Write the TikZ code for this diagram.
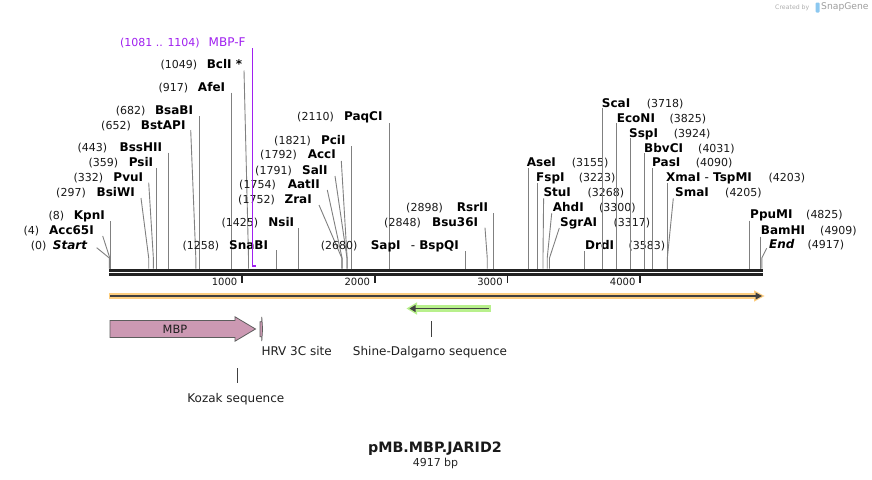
\documentclass[tikz,border=0pt]{standalone}
\usepackage{fontspec}
\setmainfont{DejaVu Sans}[BoldFont={DejaVu Sans Bold},ItalicFont={DejaVu Sans Oblique},BoldItalicFont={DejaVu Sans Bold Oblique}]
\usetikzlibrary{calc}
\definecolor{cutgray}{RGB}{128,128,128}
\definecolor{barcol}{RGB}{34,34,34}
\definecolor{primer}{RGB}{160,32,240}
\definecolor{orfill}{RGB}{253,206,128}
\definecolor{grfill}{RGB}{184,240,140}
\definecolor{darkln}{RGB}{64,64,64}
\definecolor{mbpfill}{RGB}{204,153,179}
\definecolor{logogray}{RGB}{175,175,175}
\definecolor{logoblue}{RGB}{140,200,240}
\newcommand\bpx[1]{109.3+0.1327*#1}
\tikzset{
 numlab/.style={inner sep=0pt, font=\fontsize{11}{13}\selectfont, text=black!90},
 namelab/.style={inner sep=0pt, font=\fontsize{12}{14}\selectfont\bfseries, text=black},
 featlab/.style={inner sep=0pt, font=\fontsize{12}{14}\selectfont, text=black!88},
 ticklab/.style={inner sep=0pt, font=\fontsize{10}{12}\selectfont, text=black!90},
 cut/.style={draw=cutgray, line width=0.9pt},
 barline/.style={draw=barcol, line width=3pt},
 tickline/.style={draw=barcol, line width=1.6pt},
 featick/.style={draw=darkln, line width=1.5pt},
}
% left labels, slanted line: id num name numR nameR cy bp top(x,y)
\newcommand\enzL[8]{%
 \node[numlab, anchor=base east] (#1n) at (#4,{#6+4.3}) {#2};
 \node[namelab, anchor=base east] (#1) at (#5,{#6+4.3}) {#3};
 \coordinate (#1t) at (#8);
 \coordinate (#1k) at ({\bpx{#7}},258);
 \coordinate (#1s) at ({\bpx{#7}},268.5);
 \draw[cut] (#1t) -- (#1k) -- (#1s);}
% left labels, vertical line: last arg = top y
\newcommand\enzLv[8]{%
 \node[numlab, anchor=base east] (#1n) at (#4,{#6+4.3}) {#2};
 \node[namelab, anchor=base east] (#1) at (#5,{#6+4.3}) {#3};
 \coordinate (#1t) at ({\bpx{#7}},#8);
 \coordinate (#1s) at ({\bpx{#7}},268.5);
 \draw[cut] (#1t) -- (#1s);}
% right labels: id name num nameL numL cy bp top(x,y)
\newcommand\enzR[8]{%
 \node[namelab, anchor=base west] (#1) at (#4,{#6+4.3}) {#2};
 \node[numlab, anchor=base west] (#1n) at (#5,{#6+4.3}) {#3};
 \coordinate (#1t) at (#8);
 \coordinate (#1k) at ({\bpx{#7}},258);
 \coordinate (#1s) at ({\bpx{#7}},268.5);
 \draw[cut] (#1t) -- (#1k) -- (#1s);}
\newcommand\enzRv[8]{%
 \node[namelab, anchor=base west] (#1) at (#4,{#6+4.3}) {#2};
 \node[numlab, anchor=base west] (#1n) at (#5,{#6+4.3}) {#3};
 \coordinate (#1t) at ({\bpx{#7}},#8);
 \coordinate (#1s) at ({\bpx{#7}},268.5);
 \draw[cut] (#1t) -- (#1s);}
\begin{document}
\begin{tikzpicture}[x=1pt,y=-1pt]
\useasboundingbox (0,0) rectangle (872,479);
\fill[white] (0,0) rectangle (872,479);

% ---------- enzymes, left side ----------
\enzL{start}{(0)}{\itshape Start}{46.7}{87.3}{245}{0}{96.7,247.7}
\enzL{acc}{(4)}{Acc65I}{39.3}{94}{230}{4}{102.7,236}
\enzLv{kpn}{(8)}{KpnI}{64.3}{105}{215}{8}{221}
\enzL{bsiwi}{(297)}{BsiWI}{86}{135}{192.3}{297}{141,198}
\enzL{pvu}{(332)}{PvuI}{103.3}{143.3}{176.7}{332}{148.7,182.7}
\enzLv{psi}{(359)}{PsiI}{118.3}{153.3}{162.3}{359}{168.3}
\enzLv{bsshii}{(443)}{BssHII}{107.3}{162.3}{146.7}{443}{152.7}
\enzL{bstapi}{(652)}{BstAPI}{131}{185.7}{125}{652}{190.7,130}
\enzLv{bsabi}{(682)}{BsaBI}{145.7}{193.3}{110}{682}{116}
\enzLv{afe}{(917)}{AfeI}{188.3}{225.3}{87.3}{917}{92.7}
\enzL{bcl}{(1049)}{BclI *}{197.3}{242.3}{64.3}{1049}{244,70.5}
\enzLv{snab}{(1258)}{SnaBI}{219.3}{268.3}{245}{1258}{250}
\enzLv{nsi}{(1425)}{NsiI}{258.3}{294.3}{221.7}{1425}{228.3}
\enzL{zra}{(1752)}{ZraI}{275}{312}{199.3}{1752}{319,205}
\enzL{aat}{(1754)}{AatII}{276}{320}{184.3}{1754}{327.3,190}
\enzL{sal}{(1791)}{SalI}{292}{327.7}{170}{1791}{335,176}
\enzL{acci}{(1792)}{AccI}{297}{336}{154.3}{1792}{341.3,161}
\enzLv{pci}{(1821)}{PciI}{311}{345.7}{139.7}{1821}{146}
\enzLv{paq}{(2110)}{PaqCI}{334}{382.7}{116.3}{2110}{123.3}
\enzLv{sap}{(2680)}{SapI\hspace{6pt} {\mdseries -} BspQI}{357.7}{459}{245}{2680}{251}
\enzL{bsu}{(2848)}{Bsu36I}{421}{478.3}{222}{2848}{485,227.7}
\enzLv{rsr}{(2898)}{RsrII}{443}{488.3}{207}{2898}{213.3}

% ---------- enzymes, right side ----------
\enzRv{ase}{AseI}{(3155)}{526.7}{571.7}{161.7}{3155}{168.3}
\enzRv{fsp}{FspI}{(3223)}{536}{578.7}{177.3}{3223}{183.3}
\enzR{stu}{StuI}{(3268)}{543.3}{587.3}{191.7}{3268}{543.6,198.3}
\enzR{ahd}{AhdI}{(3300)}{552.7}{599}{206.7}{3300}{551.7,213.3}
\enzR{sgr}{SgrAI}{(3317)}{560}{613.3}{221.7}{3317}{559.3,228}
\enzRv{drd}{DrdI}{(3583)}{585}{628.3}{245.5}{3583}{251}
\enzRv{sca}{ScaI}{(3718)}{601.7}{646.7}{102.7}{3718}{108.3}
\enzRv{econ}{EcoNI}{(3825)}{616.7}{669.3}{117.7}{3825}{123.3}
\enzRv{ssp}{SspI}{(3924)}{629}{673.7}{132.7}{3924}{138.3}
\enzRv{bbv}{BbvCI}{(4031)}{644}{698}{147.7}{4031}{153.3}
\enzRv{pas}{PasI}{(4090)}{652}{695.7}{161.7}{4090}{168.3}
\enzRv{xma}{XmaI {\mdseries -} TspMI}{(4203)}{666}{768.3}{177.3}{4203}{183.3}
\enzR{sma}{SmaI}{(4205)}{675}{725}{191.7}{4205}{673.3,198.3}
\enzRv{ppu}{PpuMI}{(4825)}{750}{806}{214.3}{4825}{220.7}
\enzRv{bam}{BamHI}{(4909)}{760.7}{820}{230}{4909}{236.7}
\enzR{end}{\itshape End}{(4917)}{769}{807.3}{244}{4917}{766.7,248.3}

% ---------- primer MBP-F ----------
\node[numlab, text=primer, anchor=base east] (mbpfn) at (200,46.6) {(1081 .. 1104)};
\node[featlab, text=primer, anchor=base east] (mbpf) at (245.7,46.6) {MBP-F};
\coordinate (mbpft) at ({\bpx{1081}},48.3);
\coordinate (mbpfk) at ({\bpx{1081}},266);
\coordinate (mbpfe) at ({\bpx{1104}},266);
\draw[primer, line width=1.3pt] (mbpft) -- (mbpfk) -- (mbpfe);

% ---------- sequence bar ----------
\draw[barline] (109,270) -- (762.7,270);
\draw[barline] (109,274) -- (762.7,274);
\foreach \k in {1,2,3,4} {
  \coordinate (tk\k) at ({\bpx{1000*\k}},275);
  \draw[tickline] (tk\k) -- ++(0,7.5);
  \node[ticklab, anchor=base east] (tl\k) at ($(tk\k)+(-4.5,10.8)$) {\k000};
}

% ---------- features ----------
% orange full-length arrow
\fill[orfill] (109,293.3) rectangle (757,298.7);
\fill[orfill] (754,290.3) -- (764.5,296) -- (754,301.7) -- cycle;
\draw[darkln, line width=1.8pt] (110,296) -- (757,296);
\fill[darkln] (755.5,292.4) -- (762,296) -- (755.5,299.6) -- cycle;
% green reverse arrow
\fill[grfill] (414,305.3) rectangle (490.5,311.7);
\fill[grfill] (417,302.3) -- (406.5,308.5) -- (417,314.7) -- cycle;
\draw[darkln, line width=1.8pt] (414,308.5) -- (488.5,308.5);
\fill[darkln] (415.5,304.9) -- (409.5,308.5) -- (415.5,312.1) -- cycle;
% MBP arrow
\draw[fill=mbpfill, draw=darkln!85, line width=0.8pt]
  (110,320.5) -- (235,320.5) -- (235,316.8) -- (255.5,329) -- (235,341.2) -- (235,337.5) -- (110,337.5) -- cycle;
\node[inner sep=0pt, font=\fontsize{11.4}{13}\selectfont, text=black!88] (mbp) at (175,329.5) {MBP};
% HRV 3C site
\draw[fill=mbpfill, draw=darkln!85, line width=0.7pt]
  (260,321.7) -- (261.8,321.7) -- (261.8,316.8) -- (262.6,329) -- (261.8,341.2) -- (261.8,336.7) -- (260,336.7) -- cycle;
\node[featlab, anchor=base west] (hrv) at (261.3,355) {HRV 3C site};
% Shine-Dalgarno
\coordinate (sdt) at (431.7,321);
\coordinate (sdb) at (431.7,336.7);
\draw[featick] (sdt) -- (sdb);
\node[featlab, anchor=base] (sd) at (430,355) {Shine-Dalgarno sequence};
% Kozak
\coordinate (kzt) at (237.7,368);
\coordinate (kzb) at (237.7,383);
\draw[featick] (kzt) -- (kzb);
\node[featlab, anchor=base] (kz) at (235.8,402) {Kozak sequence};

% ---------- title ----------
\node[inner sep=0pt, font=\fontsize{14.3}{16}\selectfont\bfseries, text=black!90] (title) at (435,448.5) {pMB.MBP.JARID2};
\node[inner sep=0pt, font=\fontsize{11}{13}\selectfont, text=black!85] (len) at (435.5,463.5) {4917 bp};

% ---------- logo ----------
\node[inner sep=0pt, anchor=west, font=\fontsize{6.2}{7}\selectfont, text=logogray] (cb) at (775,7.5) {Created by};
\fill[logoblue, rounded corners=1pt] (815.5,2.5) rectangle (819.5,12.5);
\node[inner sep=0pt, anchor=west, font=\fontsize{9.2}{10}\selectfont, text=logogray!90!black] (sg) at (821,7.5) {SnapGene};
\end{tikzpicture}
\end{document}
